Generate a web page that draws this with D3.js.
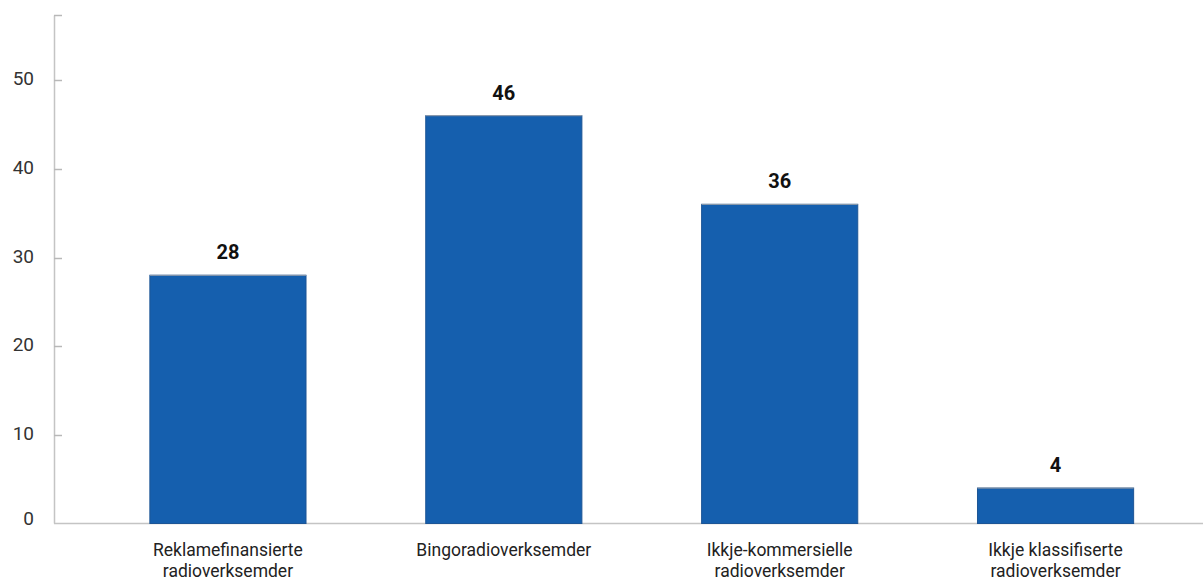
<!DOCTYPE html>
<html><head><meta charset="utf-8">
<script src="https://cdn.jsdelivr.net/npm/d3@7"></script>
<style>body{margin:0;background:#fff}svg{display:block}text{font-family:Roboto,"Noto Sans",sans-serif}</style>
</head><body>
<script>
const categories = [["Reklamefinansierte","radioverksemder"],["Bingoradioverksemder"],["Ikkje-kommersielle","radioverksemder"],["Ikkje klassifiserte","radioverksemder"]];
const values = [28, 46, 36, 4];
const yTicks = [0, 10, 20, 30, 40, 50];

const W = 1203, H = 581;
const svg = d3.select("body").append("svg").attr("width", W).attr("height", H);
const y = d3.scaleLinear().domain([0, 57.3]).range([523.5, 15.5]);
const x = d3.scaleBand().domain(d3.range(categories.length)).range([90, 1193.5]).paddingInner(0.434).paddingOuter(0.217);

// axes
const g = svg.append("g");
g.append("line").attr("x1", 54.5).attr("x2", 54.5).attr("y1", y(57.3)).attr("y2", y(0)).attr("stroke", "#c4c4c4").attr("stroke-width", 1.5);
g.append("line").attr("x1", 54).attr("x2", W).attr("y1", y(0)).attr("y2", y(0)).attr("stroke", "#c4c4c4").attr("stroke-width", 1.5);
g.append("line").attr("x1", 54).attr("x2", 62).attr("y1", y(57.3)).attr("y2", y(57.3)).attr("stroke", "#b8b8b8").attr("stroke-width", 1.5);
g.selectAll(".tk").data(yTicks.filter(d => d > 0)).join("line")
  .attr("x1", 54).attr("x2", 62).attr("y1", d => Math.round(y(d)) + 0.5).attr("y2", d => Math.round(y(d)) + 0.5)
  .attr("stroke", "#b8b8b8").attr("stroke-width", 1.5);
g.selectAll(".tl").data(yTicks).join("text")
  .attr("x", 34).attr("y", d => y(d) - (d === 0 ? 5.5 : 1.5)).attr("dy", "0.35em").attr("text-anchor", "end")
  .attr("font-size", 19).attr("fill", "#333").text(d => d);

// bars
svg.selectAll(".bar").data(values).join("rect")
  .attr("x", (d, i) => x(i)).attr("width", x.bandwidth())
  .attr("y", d => y(d)).attr("height", d => y(0) - y(d))
  .attr("fill", "#155fae").attr("stroke", "#1d5595").attr("stroke-width", 1);
svg.selectAll(".bartop").data(values).join("line")
  .attr("x1", (d, i) => x(i)).attr("x2", (d, i) => x(i) + x.bandwidth())
  .attr("y1", d => y(d)).attr("y2", d => y(d)).attr("stroke", "#9aa3ae").attr("stroke-width", 1);

// value labels
svg.selectAll(".vl").data(values).join("text")
  .attr("x", (d, i) => x(i) + x.bandwidth() / 2).attr("y", d => y(d) - 16)
  .attr("text-anchor", "middle").attr("font-size", 20).attr("font-weight", "bold").attr("fill", "#111")
  .text(d => d);

// category labels
const cl = svg.selectAll(".cl").data(categories).join("text")
  .attr("x", (d, i) => x(i) + x.bandwidth() / 2).attr("y", 556)
  .attr("text-anchor", "middle").attr("font-size", 17.5).attr("fill", "#222");
cl.selectAll("tspan").data(d => d).join("tspan")
  .attr("x", function() { return this.parentNode.getAttribute("x"); })
  .attr("dy", (d, i) => i === 0 ? 0 : 21).text(d => d);
</script>
</body></html>
